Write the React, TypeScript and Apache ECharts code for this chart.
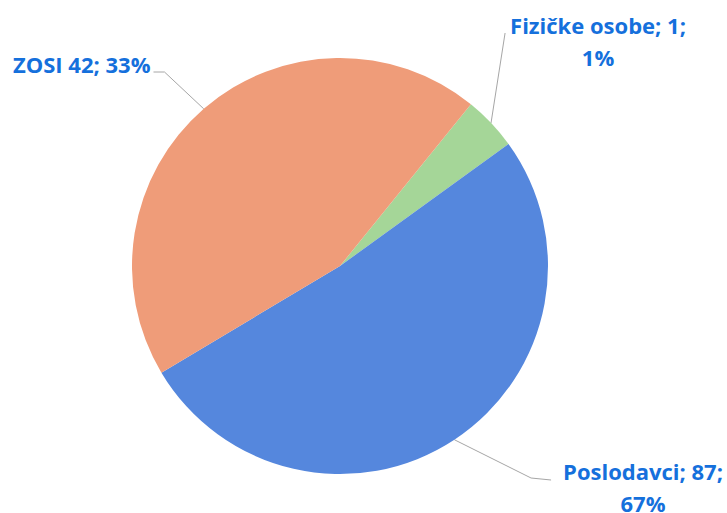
import React, { useEffect, useRef } from "react";
import * as echarts from "echarts";

// Categories and values as printed in the labels
const categories = ["Fizičke osobe", "Poslodavci", "ZOSI"];
const counts = [1, 87, 42];
const percents = [1, 67, 33];
// Slice shares as drawn in the picture (the source pie is not proportional to the labels)
const sliceShares = [4.2, 51.4, 44.4];
const colors = ["#A5D698", "#5587DD", "#EF9C79"];
// label style: true -> "name; n;\np%", false -> "name n; p%"
const twoLineLabel = [true, true, false];

export default function App() {
  const ref = useRef<HTMLDivElement>(null);
  useEffect(() => {
    if (!ref.current) return;
    const chart = echarts.init(ref.current, null, { renderer: "svg" });
    const data = categories.map((name, i) => ({
      name,
      value: sliceShares[i],
      itemStyle: { color: colors[i] },
      label: {
        formatter: twoLineLabel[i]
          ? `${name}; ${counts[i]};\n${percents[i]}%`
          : `${name} ${counts[i]}; ${percents[i]}%`,
      },
    }));
    chart.setOption({
      animation: false,
      backgroundColor: "#ffffff",
      series: [
        {
          type: "pie",
          center: [340, 266],
          radius: 208,
          startAngle: 51,
          clockwise: true,
          data,
          itemStyle: { borderWidth: 0 },
          label: {
            show: true,
            color: "#1570DC",
            fontFamily: "Open Sans",
            fontWeight: "bold",
            fontSize: 22,
            lineHeight: 32,
          },
          labelLine: {
            show: true,
            lineStyle: { color: "#A6A6A6", width: 1 },
          },
          labelLayout: (params: any) => {
            const i = params.dataIndex;
            const p0 = params.labelLinePoints ? params.labelLinePoints[0] : [0, 0];
            const w = params.labelRect.width;
            if (i === 2) {
              const x = 13;
              const y = 64;
              const endX = x + w + 3;
              return {
                x,
                y,
                align: "left",
                verticalAlign: "middle",
                labelLinePoints: [p0, [endX + 11, y + 8], [endX, y + 8]],
              };
            }
            if (i === 0) {
              const x = 598;
              const y = 41;
              const endX = x - w / 2 - 5;
              return {
                x,
                y,
                align: "center",
                verticalAlign: "middle",
                labelLinePoints: [p0, [endX, y - 8], [endX, y - 8]],
              };
            }
            const x = 643;
            const y = 487;
            const endX = x - w / 2 - 12;
            return {
              x,
              y,
              align: "center",
              verticalAlign: "middle",
              labelLinePoints: [p0, [endX - 20, y - 9], [endX, y - 7]],
            };
          },
        },
      ],
    });
    return () => chart.dispose();
  }, []);
  return (
    <div
      ref={ref}
      style={{ position: "fixed", left: 0, top: 0, width: 727, height: 513 }}
    />
  );
}
